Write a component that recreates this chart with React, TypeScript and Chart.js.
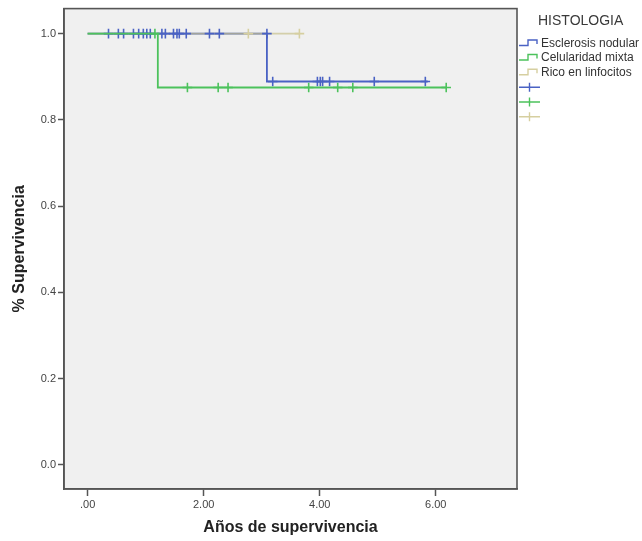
import React, { useEffect, useRef } from "react";
import { Chart, registerables } from "chart.js";

Chart.register(...registerables);

// ---- Data ----
const groupNames = ["Esclerosis nodular", "Celularidad mixta", "Rico en linfocitos"];
const legendTitle = "HISTOLOGIA";
const xAxisTitle = "Años de supervivencia";
const yAxisTitle = "% Supervivencia";
const xTickValues = [0, 2, 4, 6];
const yTickValues = [0, 0.2, 0.4, 0.6, 0.8, 1.0];

// Kaplan-Meier step curves (time, survival)
const esclerosisTime = [0, 3.09, 5.86];
const esclerosisSurv = [1, 0.889, 0.889];
const celularidadTime = [0, 1.21, 6.18];
const celularidadSurv = [1, 0.875, 0.875];
const ricoTime = [0, 3.65];
const ricoSurv = [1, 1];

// Censored observations
const esclerosisCensorTime = [0.36, 0.53, 0.62, 0.79, 0.88, 0.96, 1.02, 1.08, 1.28, 1.34, 1.48, 1.54, 1.58, 1.7, 2.1, 2.27, 3.09, 3.19, 3.96, 4.01, 4.05, 4.17, 4.94, 5.82];
const esclerosisCensorSurv = [1, 1, 1, 1, 1, 1, 1, 1, 1, 1, 1, 1, 1, 1, 1, 1, 1, 0.889, 0.889, 0.889, 0.889, 0.889, 0.889, 0.889];
const celularidadCensorTime = [1.16, 1.72, 2.25, 2.42, 3.81, 4.31, 4.57, 6.18];
const celularidadCensorSurv = [1, 0.875, 0.875, 0.875, 0.875, 0.875, 0.875, 0.875];
const ricoCensorTime = [2.77, 3.65];
const ricoCensorSurv = [1, 1];

// ---- Styles ----
const BLUE = "#4a62c4";
const GREEN = "#4cc25c";
const TAN = "rgba(200,192,140,0.7)";
const TAN_SOLID = "#d6cfa0";
const FRAME = "#555555";
const TEXT = "#444444";
const FONT = '"Liberation Sans", Arial, sans-serif';

const pts = (xs: number[], ys: number[]) => xs.map((x, i) => ({ x, y: ys[i] }));

const lineDs = (label: string, data: any[], color: string, order: number) => ({
  label,
  data,
  borderColor: color,
  backgroundColor: color,
  borderWidth: 1.8,
  pointRadius: 0,
  stepped: true,
  fill: false,
  order,
});

const censorDs = (label: string, data: any[], color: string, order: number) => ({
  label,
  data,
  showLine: false,
  pointStyle: "cross",
  pointRadius: 4.8,
  pointBorderWidth: 1.6,
  pointBorderColor: color,
  pointBackgroundColor: color,
  borderColor: color,
  order,
});

const framePlugin = {
  id: "framePlugin",
  beforeDraw(chart: any) {
    const { ctx, chartArea: a } = chart;
    ctx.save();
    ctx.fillStyle = "#f0f0f0";
    ctx.fillRect(a.left, a.top, a.right - a.left, a.bottom - a.top);
    ctx.restore();
  },
  afterDraw(chart: any) {
    const { ctx, chartArea: a } = chart;
    ctx.save();
    ctx.strokeStyle = FRAME;
    ctx.lineWidth = 1.6;
    ctx.strokeRect(a.left, a.top, a.right - a.left, a.bottom - a.top);
    ctx.restore();
  },
};

const legendPlugin = {
  id: "kmLegend",
  afterDraw(chart: any) {
    const { ctx } = chart;
    const colors = [BLUE, GREEN, TAN_SOLID];
    ctx.save();
    ctx.fillStyle = "#3a3a3a";
    ctx.textBaseline = "middle";
    ctx.textAlign = "left";
    ctx.font = "14px " + FONT;
    ctx.fillText(legendTitle, 538, 21);
    const rowY = [43.5, 58, 72.7];
    ctx.font = "12px " + FONT;
    groupNames.forEach((name, i) => {
      const y = rowY[i];
      ctx.strokeStyle = colors[i];
      ctx.lineWidth = 1.4;
      ctx.beginPath();
      ctx.moveTo(519, y + 2);
      ctx.lineTo(528, y + 2);
      ctx.lineTo(528, y - 3.5);
      ctx.lineTo(537, y - 3.5);
      ctx.lineTo(537, y + 0.5);
      ctx.stroke();
      ctx.fillStyle = "#333333";
      ctx.fillText(name, 541, y);
    });
    const crossY = [87.3, 102, 116.7];
    crossY.forEach((y, i) => {
      ctx.strokeStyle = colors[i];
      ctx.lineWidth = 1.4;
      ctx.beginPath();
      ctx.moveTo(519, y);
      ctx.lineTo(540, y);
      ctx.moveTo(529.5, y - 4.5);
      ctx.lineTo(529.5, y + 4.5);
      ctx.stroke();
    });
    ctx.restore();
  },
};

export default function App() {
  const ref = useRef<HTMLCanvasElement | null>(null);

  useEffect(() => {
    if (!ref.current) return;
    const chart = new Chart(ref.current, {
      type: "line",
      data: {
        datasets: [
          censorDs("Celularidad mixta censurado", pts(celularidadCensorTime, celularidadCensorSurv), GREEN, 0),
          lineDs(groupNames[1], pts(celularidadTime, celularidadSurv), GREEN, 1),
          censorDs("Esclerosis nodular censurado", pts(esclerosisCensorTime, esclerosisCensorSurv), BLUE, 2),
          censorDs("Rico en linfocitos censurado", pts(ricoCensorTime, ricoCensorSurv), TAN_SOLID, 3),
          lineDs(groupNames[2], pts(ricoTime, ricoSurv), TAN, 4),
          lineDs(groupNames[0], pts(esclerosisTime, esclerosisSurv), BLUE, 5),
        ] as any,
      },
      options: {
        animation: false,
        responsive: false,
        events: [],
        layout: { padding: { left: 0, right: 125, top: 5, bottom: 0 } },
        plugins: { legend: { display: false }, tooltip: { enabled: false } },
        scales: {
          x: {
            type: "linear",
            min: -0.407,
            max: 7.4,
            afterBuildTicks: (scale: any) => {
              scale.ticks = xTickValues.map((v) => ({ value: v }));
            },
            afterFit: (scale: any) => {
              scale.height = 52;
            },
            grid: { drawOnChartArea: false, drawTicks: true, tickLength: 7, tickColor: FRAME, tickWidth: 1.5 },
            border: { display: true, color: FRAME, width: 1.6 },
            ticks: {
              autoSkip: false,
              maxRotation: 0,
              padding: 2,
              color: TEXT,
              font: { family: FONT, size: 11 },
              callback: (v: any) => (v === 0 ? ".00" : Number(v).toFixed(2)),
            },
            title: {
              display: true,
              text: xAxisTitle,
              color: "#222222",
              font: { family: FONT, size: 16, weight: "bold" },
              padding: { top: 0, bottom: 4 },
            },
          },
          y: {
            type: "linear",
            min: -0.056,
            max: 1.058,
            afterBuildTicks: (scale: any) => {
              scale.ticks = yTickValues.map((v) => ({ value: v }));
            },
            afterFit: (scale: any) => {
              scale.width = 64;
            },
            grid: { drawOnChartArea: false, drawTicks: true, tickLength: 6, tickColor: FRAME, tickWidth: 1.5 },
            border: { display: true, color: FRAME, width: 1.6 },
            ticks: {
              autoSkip: false,
              padding: 2,
              color: TEXT,
              font: { family: FONT, size: 11 },
              callback: (v: any) => Number(v).toFixed(1),
            },
            title: {
              display: true,
              text: yAxisTitle,
              color: "#222222",
              font: { family: FONT, size: 16, weight: "bold" },
              padding: { top: 10, bottom: 0 },
            },
          },
        },
      } as any,
      plugins: [framePlugin, legendPlugin],
    });
    return () => chart.destroy();
  }, []);

  return (
    <div style={{ position: "absolute", left: 0, top: 0, width: 642, height: 541, background: "#ffffff" }}>
      <canvas ref={ref} width={642} height={541} style={{ display: "block" }} />
    </div>
  );
}
